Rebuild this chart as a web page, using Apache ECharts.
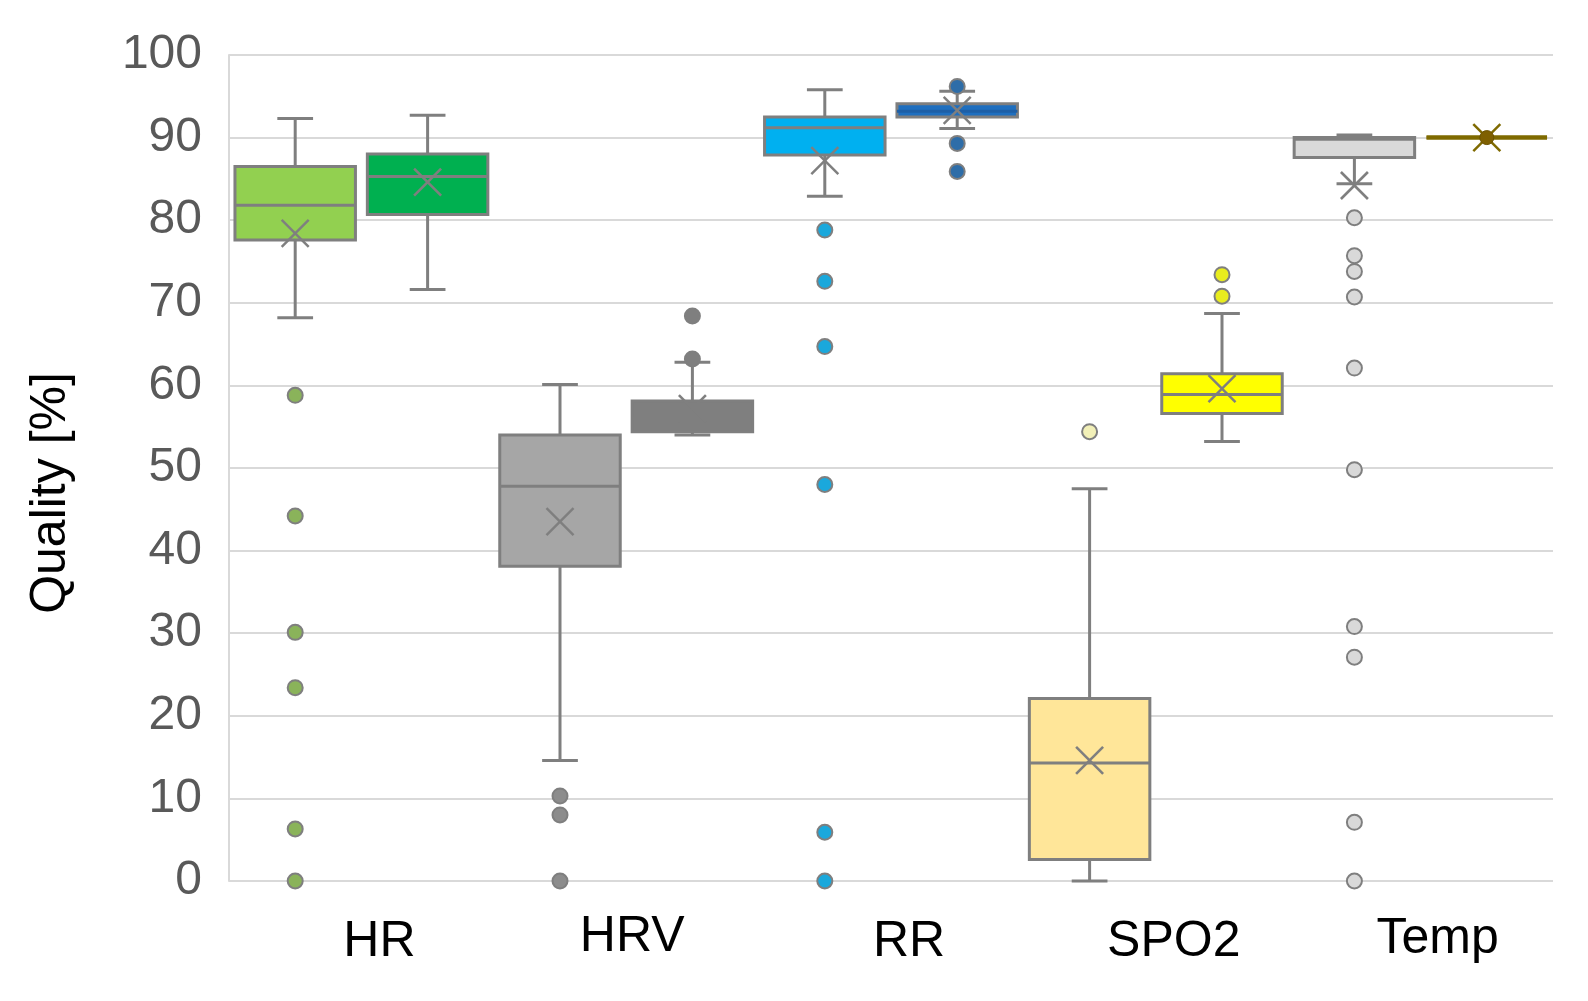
<!DOCTYPE html>
<html>
<head>
<meta charset="utf-8">
<script src="https://cdn.jsdelivr.net/npm/echarts@6/dist/echarts.min.js"></script>
<style>
  html, body { margin: 0; padding: 0; background: #fff; }
  #chart { width: 1588px; height: 1001px; }
</style>
</head>
<body>
<div id="chart"></div>
<script>
// categories shown under the axis
const categories = ["HR", "HRV", "RR", "SPO2", "Temp"];
// ten boxes, two per category
const boxSlots = ["HR-1", "HR-2", "HRV-1", "HRV-2", "RR-1", "RR-2", "SPO2-1", "SPO2-2", "Temp-1", "Temp-2"];
const whiskerLow  = [68.2, 71.6, 14.6, 54.0, 82.9, 91.1, 0.0, 53.2, 84.4, 90];
const q1          = [77.6, 80.7, 38.1, 54.4, 87.9, 92.5, 2.6, 56.6, 87.6, 90];
const median      = [81.8, 85.3, 47.8, 56.0, 91.2, 93.2, 14.3, 58.9, 89.8, 90];
const q3          = [86.5, 88.0, 54.0, 58.1, 92.5, 94.1, 22.1, 61.4, 90.0, 90];
const whiskerHigh = [92.3, 92.7, 60.1, 62.8, 95.8, 95.6, 47.5, 68.7, 90.3, 90];
const means       = [78.4, 84.6, 43.5, 57.2, 87.2, 93.3, 14.6, 59.6, 84.2, 90];
const outliers = [
  [58.8, 44.2, 30.1, 23.4, 6.3, 0],
  [],
  [10.3, 8.0, 0],
  [68.4, 63.2],
  [78.8, 72.6, 64.7, 48.0, 5.9, 0],
  [96.2, 89.3, 85.9],
  [54.4],
  [73.4, 70.8],
  [80.3, 75.7, 73.8, 70.7, 62.1, 49.8, 30.8, 27.1, 7.1, 0],
  []
];
const yTicks = [0, 10, 20, 30, 40, 50, 60, 70, 80, 90, 100];

// styles per box
const GRAY = "#7F7F7F";
const boxStyles = [
  { fill: "#92D050", stroke: GRAY, median: GRAY, mean: GRAY, dot: "#8AB35A" },
  { fill: "#00B050", stroke: GRAY, median: GRAY, mean: GRAY, dot: null },
  { fill: "#A6A6A6", stroke: GRAY, median: GRAY, mean: GRAY, dot: "#8C8C8C" },
  { fill: "#7F7F7F", stroke: GRAY, median: GRAY, mean: GRAY, dot: "#7F7F7F" },
  { fill: "#00B0F0", stroke: GRAY, median: GRAY, mean: GRAY, dot: "#1AA8DC" },
  { fill: "#1F6FBF", stroke: GRAY, median: "#1E5FA6", mean: GRAY, dot: "#2E6DA8" },
  { fill: "#FFE699", stroke: GRAY, median: GRAY, mean: GRAY, dot: "#F2F0B8" },
  { fill: "#FFFF00", stroke: GRAY, median: GRAY, mean: GRAY, dot: "#E8EC1E" },
  { fill: "#D9D9D9", stroke: GRAY, median: GRAY, mean: GRAY, dot: "#D9D9D9" },
  { fill: "#7F6000", stroke: "#7F6A00", median: "#7F6A00", mean: "#7F6A00", dot: null, meanDot: true }
];

const boxData = boxSlots.map((s, i) => [i, whiskerLow[i], q1[i], median[i], q3[i], whiskerHigh[i], means[i]]);
const outlierData = [];
outliers.forEach((list, i) => list.forEach(v => outlierData.push([i, v])));

const FONT = "'Liberation Sans', Arial, sans-serif";

function renderBox(params, api) {
  const i = api.value(0);
  const st = boxStyles[i];
  const low = api.coord([i, api.value(1)]);
  const p1 = api.coord([i, api.value(2)]);
  const pm = api.coord([i, api.value(3)]);
  const p3 = api.coord([i, api.value(4)]);
  const high = api.coord([i, api.value(5)]);
  const pMean = api.coord([i, api.value(6)]);
  const slot = api.size([1, 0])[0];
  const w = slot * 0.91;
  const cap = slot * 0.27;
  const x = low[0];
  const lw = st.meanDot ? 4 : 3;
  const line = (x1, y1, x2, y2, color, width) => ({
    type: "line",
    shape: { x1, y1, x2, y2 },
    style: { stroke: color, lineWidth: width || 3 }
  });
  const r = 13.5;
  const children = [
    line(x, p1[1], x, low[1], st.stroke),
    line(x, p3[1], x, high[1], st.stroke),
    line(x - cap / 2, low[1], x + cap / 2, low[1], st.stroke),
    line(x - cap / 2, high[1], x + cap / 2, high[1], st.stroke),
    {
      type: "rect",
      shape: { x: x - w / 2, y: p3[1], width: w, height: p1[1] - p3[1] },
      style: { fill: st.fill, stroke: st.stroke, lineWidth: lw }
    },
    line(x - w / 2, pm[1], x + w / 2, pm[1], st.median, lw),
    line(pMean[0] - r, pMean[1] - r, pMean[0] + r, pMean[1] + r, st.mean, 2.5),
    line(pMean[0] - r, pMean[1] + r, pMean[0] + r, pMean[1] - r, st.mean, 2.5)
  ];
  if (st.meanDot) {
    children.push({
      type: "circle",
      shape: { cx: pMean[0], cy: pMean[1], r: 7 },
      style: { fill: "#7F6000", stroke: "#6B5200", lineWidth: 1 }
    });
  }
  return { type: "group", children };
}

const chart = echarts.init(document.getElementById("chart"));

const option = {
  backgroundColor: "#fff",
  animation: false,
  grid: { left: 229, right: 35, top: 55, bottom: 120 },
  xAxis: [
    {
      type: "category",
      data: boxSlots,
      axisLine: { show: false },
      axisTick: { show: false },
      axisLabel: { show: false },
      splitLine: { show: false }
    },
    {
      type: "category",
      data: categories.map((c, k) => ({
        value: c,
        textStyle: k === 1 ? { padding: [0, 0, 0, 12], lineHeight: 40 }
                 : k === 4 ? { padding: [0, 0, 0, 34], lineHeight: 44 }
                 : { padding: [0, 0, 0, 36] }
      })),
      position: "bottom",
      axisLine: { show: false },
      axisTick: { show: false },
      axisLabel: {
        margin: 36,
        fontSize: 50,
        lineHeight: 50,
        color: "#000",
        fontFamily: FONT,
        verticalAlign: "top"
      }
    }
  ],
  yAxis: {
    type: "value",
    min: yTicks[0],
    max: yTicks[yTicks.length - 1],
    interval: 10,
    name: "Quality [%]",
    nameLocation: "middle",
    nameGap: 153,
    nameTextStyle: { fontSize: 50, color: "#000", fontFamily: FONT, padding: [0, 50, 0, 0] },
    axisLine: { show: true, lineStyle: { color: "#D9D9D9", width: 2 } },
    axisTick: { show: false },
    axisLabel: { fontSize: 48, color: "#595959", fontFamily: FONT, margin: 27, padding: [8, 0, 0, 0] },
    splitLine: { lineStyle: { color: "#D9D9D9", width: 2 } }
  },
  series: [
    {
      type: "custom",
      xAxisIndex: 0,
      renderItem: renderBox,
      encode: { x: 0, y: [1, 2, 3, 4, 5, 6] },
      data: boxData,
      z: 2
    },
    {
      type: "scatter",
      xAxisIndex: 0,
      data: outlierData,
      symbol: "circle",
      symbolSize: 15,
      itemStyle: {
        color: p => boxStyles[p.data[0]].dot,
        borderColor: GRAY,
        borderWidth: 2,
        opacity: 1
      },
      z: 3
    }
  ]
};

chart.setOption(option);
</script>
</body>
</html>
